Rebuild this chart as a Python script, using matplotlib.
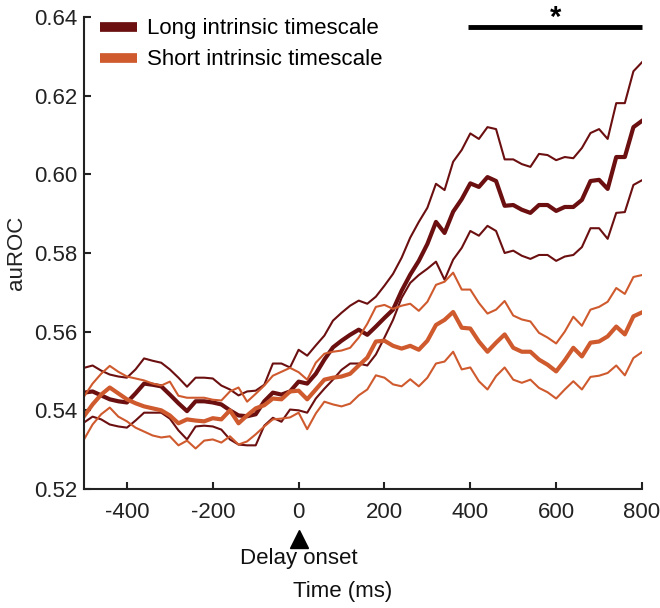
import numpy as np
import matplotlib
matplotlib.use("Agg")
import matplotlib.pyplot as plt
from matplotlib.lines import Line2D

plt.rcParams['font.family'] = ['Liberation Sans', 'DejaVu Sans']

time_ms = list(range(-500, 801, 20))

long_mean = [0.5445, 0.5448, 0.5438, 0.5428, 0.5423, 0.5420, 0.5443, 0.5468, 0.5465, 0.5461,
             0.5440, 0.5418, 0.5398, 0.5423, 0.5423, 0.5420, 0.5415, 0.5400, 0.5387, 0.5385,
             0.5390, 0.5423, 0.5445, 0.5440, 0.5448, 0.5473, 0.5468, 0.5493, 0.5529, 0.5560,
             0.5577, 0.5592, 0.5605, 0.5592, 0.5613, 0.5635, 0.5656, 0.5704, 0.5745, 0.5780,
             0.5823, 0.5879, 0.5851, 0.5905, 0.5937, 0.5977, 0.5968, 0.5993, 0.5983, 0.5920,
             0.5922, 0.5910, 0.5902, 0.5922, 0.5922, 0.5907, 0.5917, 0.5917, 0.5935, 0.5983,
             0.5986, 0.5963, 0.6044, 0.6044, 0.6120, 0.6136]
long_upper = [0.5508, 0.5514, 0.5501, 0.5491, 0.5486, 0.5483, 0.5504, 0.5532, 0.5526, 0.5521,
              0.5504, 0.5483, 0.5460, 0.5483, 0.5483, 0.5481, 0.5463, 0.5453, 0.5438, 0.5448,
              0.5450, 0.5465, 0.5519, 0.5519, 0.5509, 0.5554, 0.5539, 0.5565, 0.5590, 0.5628,
              0.5648, 0.5666, 0.5679, 0.5671, 0.5689, 0.5717, 0.5747, 0.5788, 0.5839, 0.5879,
              0.5915, 0.5976, 0.5960, 0.6032, 0.6062, 0.6104, 0.6090, 0.6120, 0.6115, 0.6038,
              0.6038, 0.6026, 0.6019, 0.6052, 0.6049, 0.6036, 0.6044, 0.6041, 0.6067, 0.6105,
              0.6115, 0.6090, 0.6181, 0.6181, 0.6262, 0.6285]
long_lower = [0.5369, 0.5384, 0.5377, 0.5364, 0.5359, 0.5356, 0.5374, 0.5394, 0.5394, 0.5394,
              0.5379, 0.5349, 0.5326, 0.5359, 0.5361, 0.5359, 0.5351, 0.5326, 0.5313, 0.5311,
              0.5311, 0.5361, 0.5381, 0.5371, 0.5402, 0.5400, 0.5394, 0.5430, 0.5455, 0.5478,
              0.5503, 0.5519, 0.5519, 0.5514, 0.5542, 0.5585, 0.5630, 0.5686, 0.5724, 0.5744,
              0.5760, 0.5778, 0.5732, 0.5783, 0.5813, 0.5856, 0.5844, 0.5869, 0.5856, 0.5800,
              0.5806, 0.5793, 0.5785, 0.5795, 0.5795, 0.5780, 0.5791, 0.5795, 0.5815, 0.5863,
              0.5863, 0.5836, 0.5902, 0.5904, 0.5973, 0.5985]

short_mean = [0.5385, 0.5415, 0.5440, 0.5458, 0.5443, 0.5428, 0.5418, 0.5410, 0.5405, 0.5400,
              0.5387, 0.5367, 0.5377, 0.5374, 0.5372, 0.5380, 0.5377, 0.5400, 0.5367, 0.5387,
              0.5405, 0.5413, 0.5430, 0.5428, 0.5448, 0.5450, 0.5428, 0.5453, 0.5478, 0.5483,
              0.5486, 0.5493, 0.5514, 0.5534, 0.5575, 0.5577, 0.5564, 0.5557, 0.5564, 0.5554,
              0.5577, 0.5617, 0.5630, 0.5650, 0.5610, 0.5608, 0.5575, 0.5549, 0.5572, 0.5593,
              0.5559, 0.5549, 0.5549, 0.5529, 0.5516, 0.5499, 0.5527, 0.5559, 0.5537, 0.5572,
              0.5575, 0.5588, 0.5613, 0.5593, 0.5639, 0.5649]
short_upper = [0.5435, 0.5468, 0.5493, 0.5513, 0.5498, 0.5486, 0.5481, 0.5476, 0.5468, 0.5463,
               0.5473, 0.5437, 0.5432, 0.5432, 0.5432, 0.5427, 0.5425, 0.5448, 0.5458, 0.5422,
               0.5442, 0.5463, 0.5488, 0.5498, 0.5508, 0.5497, 0.5478, 0.5521, 0.5544, 0.5549,
               0.5552, 0.5559, 0.5585, 0.5620, 0.5663, 0.5668, 0.5658, 0.5666, 0.5671, 0.5653,
               0.5676, 0.5719, 0.5727, 0.5750, 0.5707, 0.5707, 0.5673, 0.5646, 0.5656, 0.5678,
               0.5641, 0.5631, 0.5626, 0.5597, 0.5585, 0.5570, 0.5600, 0.5638, 0.5615, 0.5656,
               0.5663, 0.5676, 0.5711, 0.5696, 0.5739, 0.5744]
short_lower = [0.5326, 0.5364, 0.5390, 0.5407, 0.5384, 0.5372, 0.5356, 0.5346, 0.5336, 0.5331,
               0.5334, 0.5311, 0.5323, 0.5303, 0.5323, 0.5326, 0.5318, 0.5334, 0.5313, 0.5321,
               0.5339, 0.5359, 0.5377, 0.5379, 0.5382, 0.5394, 0.5352, 0.5392, 0.5422, 0.5415,
               0.5410, 0.5417, 0.5438, 0.5453, 0.5489, 0.5483, 0.5466, 0.5461, 0.5479, 0.5461,
               0.5483, 0.5519, 0.5524, 0.5549, 0.5504, 0.5509, 0.5474, 0.5453, 0.5487, 0.5509,
               0.5478, 0.5470, 0.5478, 0.5457, 0.5446, 0.5430, 0.5453, 0.5474, 0.5453, 0.5485,
               0.5488, 0.5495, 0.5514, 0.5489, 0.5533, 0.5548]

x_ticks = [-400, -200, 0, 200, 400, 600, 800]
y_ticks = [0.52, 0.54, 0.56, 0.58, 0.60, 0.62, 0.64]
sig_start, sig_end = 395, 800
labels = ["Long intrinsic timescale", "Short intrinsic timescale"]

c_long = "#6B0F10"
c_short = "#CF5A2E"
fs = 16

fig = plt.figure(figsize=(6.6, 6.08), dpi=100)
ax = fig.add_axes([84 / 660, 1 - 489 / 608, 558 / 660, 472 / 608])

t = np.array(time_ms)
for arr in (long_upper, long_lower):
    ax.plot(t, arr, color=c_long, lw=1.5)
ax.plot(t, long_mean, color=c_long, lw=3.0)
for arr in (short_upper, short_lower):
    ax.plot(t, arr, color=c_short, lw=1.5)
ax.plot(t, short_mean, color=c_short, lw=3.0)

ax.set_xlim(-500, 800)
ax.set_ylim(0.52, 0.64)
ax.set_xticks(x_ticks)
ax.set_xticklabels([str(v) for v in x_ticks])
ax.set_yticks(y_ticks)
ax.set_yticklabels([f"{v:.2f}" for v in y_ticks])

for s in ("top", "right"):
    ax.spines[s].set_visible(False)
for s in ("left", "bottom"):
    ax.spines[s].set_linewidth(1.5)
    ax.spines[s].set_color("#222222")
ax.tick_params(direction="in", length=5, width=1.5, colors="#222222",
               labelsize=fs, labelcolor="#222222")
ax.tick_params(axis="x", pad=9)
ax.tick_params(axis="y", pad=5)

ax.set_ylabel("auROC", fontsize=fs, color="#222222")
ax.yaxis.set_label_coords((27 - 84) / 558, 0.5)

# significance bar and star
ax.plot([sig_start, sig_end], [0.6374, 0.6374], color="black", lw=3.5,
        clip_on=False, solid_capstyle="butt")
ax.text((sig_start + sig_end) / 2, 0.6398, "*", fontsize=21, ha="center",
        va="center", color="black", fontweight="bold", clip_on=False)

# Delay onset marker
ax.plot([0], [-0.105], marker="^", markersize=13, color="black",
        transform=ax.get_xaxis_transform(), clip_on=False)
ax.text(0, -0.148, "Delay onset", transform=ax.get_xaxis_transform(),
        ha="center", va="center", fontsize=fs, color="#111111")
fig.text(343 / 660, 1 - 592 / 608, "Time (ms)", ha="center", va="center",
         fontsize=fs, color="#111111")

handles = [Line2D([0], [0], color=c_long, lw=7, solid_capstyle="butt"),
           Line2D([0], [0], color=c_short, lw=7, solid_capstyle="butt")]
ax.legend(handles, labels, loc="upper left", bbox_to_anchor=(0.0, 1.03),
          frameon=False, fontsize=fs, handlelength=1.7, handletextpad=0.45,
          labelspacing=0.45, borderaxespad=0.3)

fig.savefig("out.png", dpi=100)
